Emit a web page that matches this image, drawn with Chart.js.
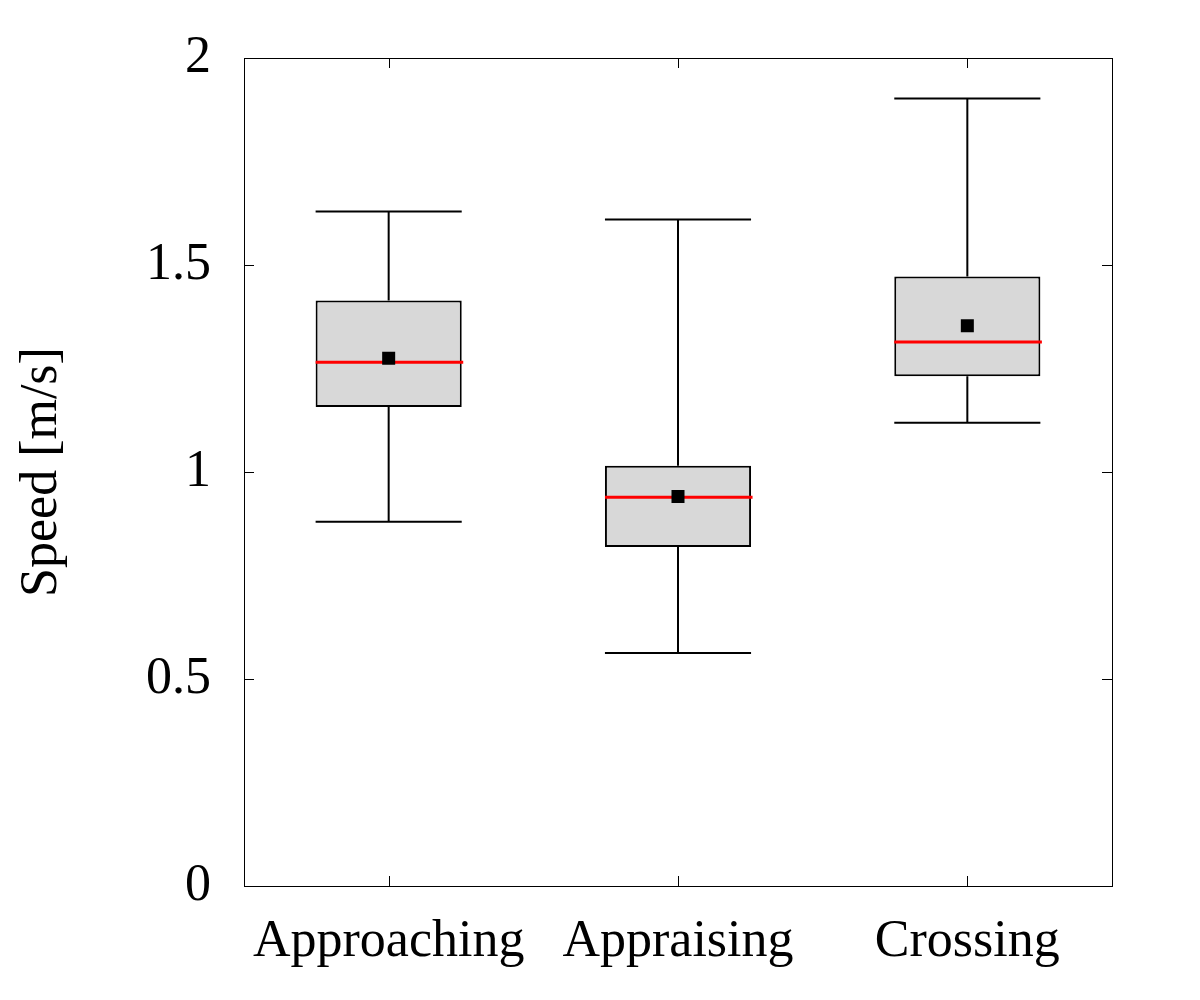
<!DOCTYPE html>
<html lang="en">
<head>
  <meta charset="UTF-8">
  <title>Speed</title>
  <script src="https://cdn.jsdelivr.net/npm/chart.js"></script>
  <style>
    body { margin: 0; background: #fff; }
    canvas { display: block; }
  </style>
</head>
<body>
  <canvas id="speedChart" width="1200" height="1000" style="width:1200px;height:1000px"></canvas>

  <script>
    const categories = ['Approaching', 'Appraising', 'Crossing'];
    const whiskerMax = [1.629, 1.610, 1.902];
    const upperQuartile = [1.414, 1.015, 1.472];
    const medians = [1.265, 0.939, 1.314];
    const lowerQuartile = [1.157, 0.819, 1.231];
    const whiskerMin = [0.880, 0.563, 1.119];
    const means = [1.275, 0.941, 1.353];

    const FONT = "'Liberation Serif', 'Times New Roman', serif";

    // whiskers + median, drawn right after the boxes so the mean marker stays on top
    const boxExtras = {
      id: 'boxExtras',
      afterDatasetDraw(chart, args) {
        if (args.meta.type !== 'bar') return;
        const ctx = chart.ctx;
        const x = chart.scales.x;
        const y = chart.scales.y;
        ctx.save();
        args.meta.data.forEach((bar, i) => {
          const cx = x.getPixelForValue(i);
          const hw = bar.width / 2;
          ctx.strokeStyle = '#000';
          ctx.lineWidth = 2;
          ctx.beginPath();
          ctx.moveTo(cx, y.getPixelForValue(upperQuartile[i]));
          ctx.lineTo(cx, y.getPixelForValue(whiskerMax[i]));
          ctx.moveTo(cx - hw, y.getPixelForValue(whiskerMax[i]));
          ctx.lineTo(cx + hw, y.getPixelForValue(whiskerMax[i]));
          ctx.moveTo(cx, y.getPixelForValue(lowerQuartile[i]));
          ctx.lineTo(cx, y.getPixelForValue(whiskerMin[i]));
          ctx.moveTo(cx - hw, y.getPixelForValue(whiskerMin[i]));
          ctx.lineTo(cx + hw, y.getPixelForValue(whiskerMin[i]));
          ctx.stroke();

          ctx.strokeStyle = '#ff0000';
          ctx.lineWidth = 3;
          ctx.beginPath();
          ctx.moveTo(cx - hw, y.getPixelForValue(medians[i]));
          ctx.lineTo(cx + hw + 1.5, y.getPixelForValue(medians[i]));
          ctx.stroke();
        });
        ctx.restore();
      }
    };

    // gnuplot style frame with inward ticks on all four sides
    const frame = {
      id: 'frame',
      afterDraw(chart) {
        const ctx = chart.ctx;
        const a = chart.chartArea;
        const x = chart.scales.x;
        const y = chart.scales.y;
        const len = 10;
        ctx.save();
        ctx.strokeStyle = '#000';
        ctx.lineWidth = 1;
        ctx.strokeRect(a.left + 0.5, a.top + 0.5, a.right - a.left, a.bottom - a.top);
        ctx.beginPath();
        y.ticks.forEach((t, i) => {
          const py = Math.round(y.getPixelForTick(i)) + 0.5;
          ctx.moveTo(a.left, py);
          ctx.lineTo(a.left + len, py);
          ctx.moveTo(a.right, py);
          ctx.lineTo(a.right - len, py);
        });
        x.ticks.forEach((t, i) => {
          const px = Math.round(x.getPixelForTick(i)) + 0.5;
          ctx.moveTo(px, a.bottom);
          ctx.lineTo(px, a.bottom - len);
          ctx.moveTo(px, a.top);
          ctx.lineTo(px, a.top + len);
        });
        ctx.stroke();
        ctx.restore();
      }
    };

    const ctx = document.getElementById('speedChart').getContext('2d');
    const speedChart = new Chart(ctx, {
      type: 'bar',
      data: {
        labels: categories,
        datasets: [{
          type: 'bar',
          data: categories.map((c, i) => [lowerQuartile[i], upperQuartile[i]]),
          backgroundColor: '#d8d8d8',
          borderColor: '#000',
          borderWidth: 2,
          borderSkipped: false,
          barPercentage: 0.505,
          categoryPercentage: 1.0,
          order: 2
        }, {
          type: 'line',
          data: means,
          showLine: false,
          pointStyle: 'rect',
          pointRadius: 9.2,
          pointBackgroundColor: '#000',
          pointBorderWidth: 0,
          order: 1
        }]
      },
      options: {
        responsive: false,
        animation: false,
        layout: {
          padding: { top: 58, right: 88, left: 0, bottom: 0 }
        },
        plugins: {
          legend: { display: false },
          tooltip: { enabled: false }
        },
        scales: {
          x: {
            grid: { display: false, drawTicks: false },
            border: { display: false },
            ticks: {
              color: '#000',
              padding: 25,
              font: { family: FONT, size: 52 }
            },
            afterFit(scale) { scale.height = 114; }
          },
          y: {
            min: 0,
            max: 2,
            grid: { display: false, drawTicks: false },
            border: { display: false },
            ticks: {
              stepSize: 0.5,
              color: '#000',
              padding: 33,
              font: { family: FONT, size: 52 },
              callback: value => String(value)
            },
            title: {
              display: true,
              text: 'Speed [m/s]',
              color: '#000',
              padding: { top: 11, bottom: 0 },
              font: { family: FONT, size: 52 }
            },
            afterFit(scale) {
              scale.width = 244;
              // the top label would otherwise push the plot down
              scale.paddingTop = 0;
              scale.paddingBottom = 0;
            }
          }
        }
      },
      plugins: [boxExtras, frame]
    });
  </script>
</body>
</html>
